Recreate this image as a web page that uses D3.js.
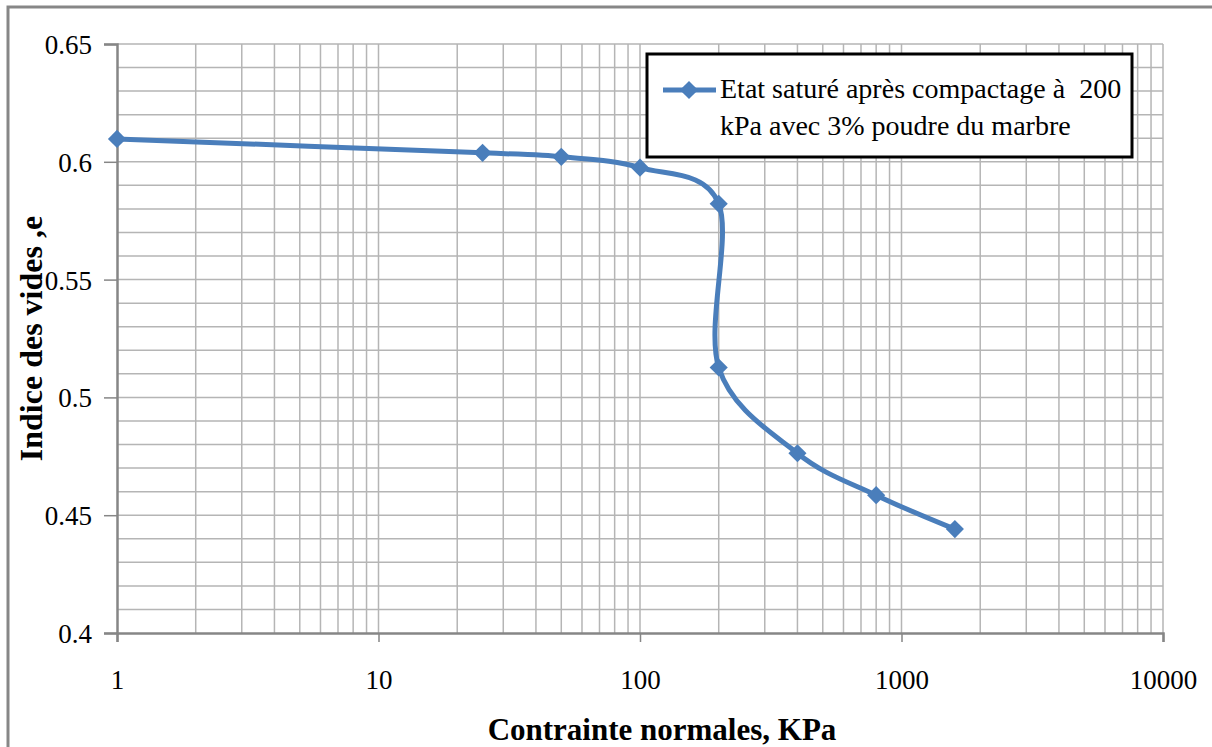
<!DOCTYPE html>
<html>
<head>
<meta charset="utf-8">
<script src="https://cdn.jsdelivr.net/npm/d3@7"></script>
<style>
  body { margin: 0; background: #fff; }
  svg { display: block; }
</style>
</head>
<body>
<script>
// data
const stress = [1, 25, 50, 100, 200, 200, 400, 800, 1600]
const voidRatio = [0.6097, 0.6038, 0.6021, 0.5975, 0.5822, 0.5127, 0.4763, 0.4585, 0.4441]
const xTicks = [1, 10, 100, 1000, 10000]
const yTicks = [0.4, 0.45, 0.5, 0.55, 0.6, 0.65]
const legendLines = ["Etat saturé après compactage à  200", "kPa avec 3% poudre du marbre"]

const W = 1212, H = 747
const m = {left: 117, right: 1163, top: 44, bottom: 633}
const serif = "Liberation Serif"
const blue = "#4a7ebb"

let svg = d3.select("body").append("svg")
    .attr("width", W)
    .attr("height", H)

// outer chart frame
svg.append("rect")
    .attr("x", 8).attr("y", 7)
    .attr("width", W + 20).attr("height", H + 20)
    .attr("fill", "none")
    .attr("stroke", "#878787")
    .attr("stroke-width", 3)

let x = d3.scaleLog().domain([1, 10000]).range([m.left, m.right])
let y = d3.scaleLinear().domain([0.4, 0.65]).range([m.bottom, m.top])

// vertical grid: every 1..9 of each decade
let xGrid = []
for (let d = 1; d < 10000; d *= 10)
    for (let k = 1; k <= 9; k++) xGrid.push(d * k)
xGrid.push(10000)

svg.append("g").selectAll("line")
    .data(xGrid.filter(v => v > 1))
    .join("line")
    .attr("x1", d => x(d)).attr("x2", d => x(d))
    .attr("y1", m.top).attr("y2", m.bottom)
    .attr("stroke", "#b5b5b5")
    .attr("stroke-width", 1.5)

// horizontal grid every 0.01
svg.append("g").selectAll("line")
    .data(d3.range(41, 66).map(v => v / 100))
    .join("line")
    .attr("x1", m.left).attr("x2", m.right)
    .attr("y1", d => y(d)).attr("y2", d => y(d))
    .attr("stroke", "#b5b5b5")
    .attr("stroke-width", 1.5)

// axes
let xAxis = svg.append("g")
    .attr("transform", `translate(0,${m.bottom})`)
    .call(d3.axisBottom(x).tickValues(xTicks).tickFormat(d3.format("d")).tickSize(9).tickPadding(28))
let yAxis = svg.append("g")
    .attr("transform", `translate(${m.left},0)`)
    .call(d3.axisLeft(y).tickValues(yTicks).tickFormat(d => String(d)).tickSize(13).tickPadding(12))

for (let a of [xAxis, yAxis]) {
    a.attr("font-family", serif).attr("font-size", 27)
    a.select(".domain").attr("stroke", "#868686").attr("stroke-width", 2.5)
    a.selectAll(".tick line").attr("stroke", "#868686").attr("stroke-width", 1.5)
    a.selectAll(".tick text").attr("fill", "#000")
}
yAxis.selectAll(".tick text").attr("dy", "0.35em")

// curve
let line = d3.line()
    .x((d, i) => x(stress[i]))
    .y(d => y(d))
    .curve(d3.curveCatmullRom.alpha(0))

svg.append("path")
    .datum(voidRatio)
    .attr("d", line)
    .attr("fill", "none")
    .attr("stroke", blue)
    .attr("stroke-width", 5)

let diamond = d3.symbol().type(d3.symbolDiamond2).size(210)
svg.append("g").selectAll("path")
    .data(voidRatio)
    .join("path")
    .attr("d", diamond)
    .attr("transform", (d, i) => `translate(${x(stress[i])},${y(d)})`)
    .attr("fill", blue)

// legend
let lg = svg.append("g")
lg.append("rect")
    .attr("x", 647).attr("y", 54)
    .attr("width", 485).attr("height", 103)
    .attr("fill", "#fff")
    .attr("stroke", "#000")
    .attr("stroke-width", 3)
lg.append("line")
    .attr("x1", 663).attr("x2", 716)
    .attr("y1", 90).attr("y2", 90)
    .attr("stroke", blue)
    .attr("stroke-width", 5)
lg.append("path")
    .attr("d", diamond)
    .attr("transform", "translate(689,90)")
    .attr("fill", blue)
lg.selectAll("text")
    .data(legendLines)
    .join("text")
    .attr("x", 720)
    .attr("y", (d, i) => 98 + i * 37)
    .attr("font-family", serif)
    .attr("font-size", 28)
    .attr("fill", "#000")
    .attr("xml:space", "preserve")
    .text(d => d)

// axis titles
svg.append("text")
    .attr("x", 662)
    .attr("y", 740)
    .attr("text-anchor", "middle")
    .attr("font-family", serif)
    .attr("font-size", 31)
    .attr("font-weight", "bold")
    .text("Contrainte normales, KPa")

svg.append("text")
    .attr("transform", `translate(42,${(m.top + m.bottom) / 2}) rotate(-90)`)
    .attr("text-anchor", "middle")
    .attr("font-family", serif)
    .attr("font-size", 32)
    .attr("font-weight", "bold")
    .text("Indice des vides ,e")
</script>
</body>
</html>
